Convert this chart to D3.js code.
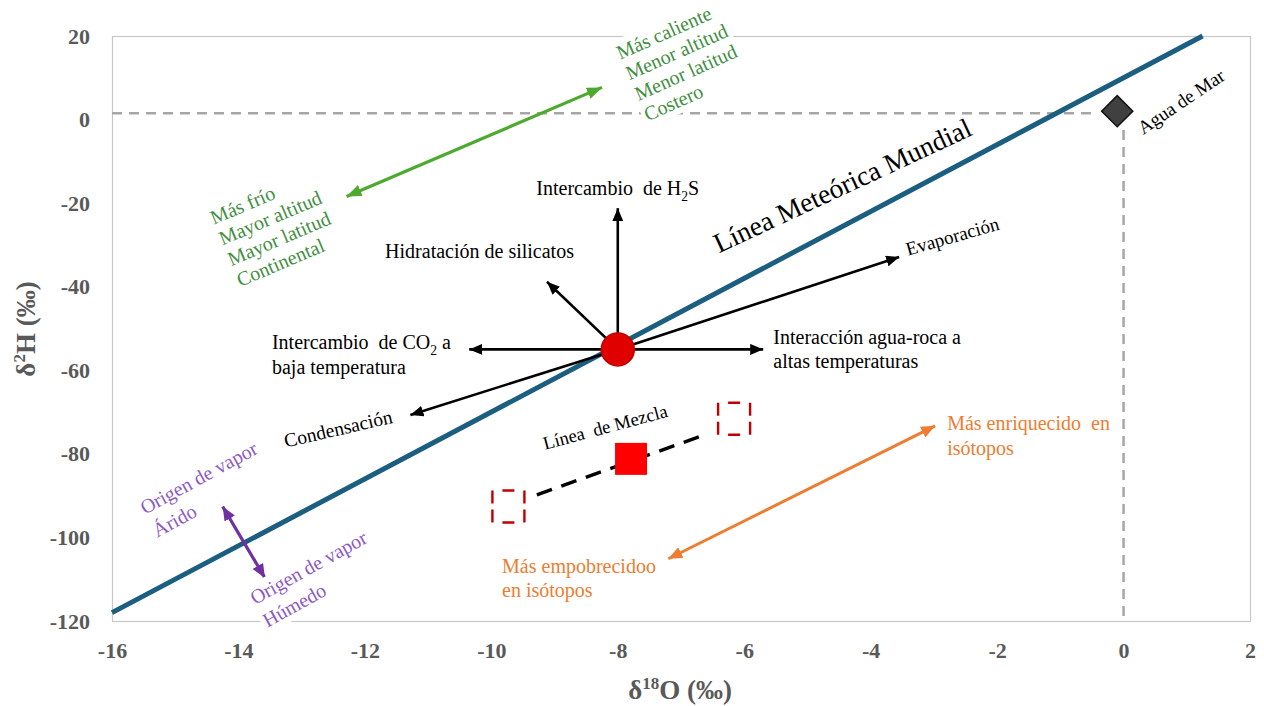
<!DOCTYPE html>
<html><head><meta charset="utf-8">
<script src="https://cdn.jsdelivr.net/npm/d3@7"></script>
<style>
body{margin:0;background:#fff}
svg{display:block}
text{font-family:"Liberation Serif","Times New Roman",serif}
</style>
</head><body>
<svg id="c" width="1264" height="706"></svg>
<script>
// ---------- data ----------
const xDomain = [-16, 2];
const yDomain = [-120, 20];
const xTicks = [-16, -14, -12, -10, -8, -6, -4, -2, 0, 2];
const yTicks = [-120, -100, -80, -60, -40, -20, 0, 20];
// Global Meteoric Water Line: d2H = 8 d18O + 10
const gmwlSlope = 8, gmwlIntercept = 10;
const gmwlX = [-16, 1.25];
const seaWater = [-0.1, 2.0];
const seaRefH = [[-16, 1.5], [-0.45, 1.5]];
const seaRefV = [[0, -2.5], [0, -120]];
const centerPoint = [-8, -55];
const processEnds = [
  [-8.0, -21.2],    // Intercambio de H2S
  [-9.12, -38.8],   // Hidratación de silicatos
  [-10.35, -55.0],  // Intercambio de CO2
  [-5.7, -55.0],    // Interacción agua-roca
  [-3.55, -32.9],   // Evaporación
  [-11.28, -70.7]   // Condensación
];
const mixLine = [[-9.28, -89.8], [-6.6, -75.3]];
const endMembers = [[-9.73, -92.6], [-6.16, -71.6]];
const mixSample = [-7.79, -81.2];
const greenArrow = [[-12.29, -18.4], [-8.25, 7.7]];
const purpleArrow = [[-14.25, -92.6], [-13.58, -109.7]];
const orangeArrow = [[-7.2, -105.1], [-2.98, -73.3]];

const labels = [
  {lines: ["Más frío", "Mayor altitud", "Mayor latitud", "Continental"], at: [-14.39, -25.2], angle: -23, size: 20, lh: 22.5, color: "#3f8f3f"},
  {lines: ["Más caliente", "Menor altitud", "Menor latitud", "Costero"], at: [-7.96, 14.3], angle: -24, size: 20, lh: 22.5, color: "#3f8f3f", box: true},
  {lines: ["Origen de vapor", "Árido"], at: [-15.48, -94.6], angle: -28.5, size: 20, lh: 26, color: "#8c5ac4"},
  {lines: ["Origen de vapor", "Húmedo"], at: [-13.74, -116.2], angle: -29, size: 20, lh: 26, color: "#8c5ac4", box: true},
  {lines: ["Línea Meteórica Mundial"], at: [-6.4, -32.0], angle: -25, size: 27.5, lh: 30, color: "#000"},
  {lines: ["Agua de Mar"], at: [0.31, -3.7], angle: -34, size: 19, lh: 20, color: "#000"},
  {lines: ["Evaporación"], at: [-3.41, -32.6], angle: -16, size: 19, lh: 20, color: "#000"},
  {lines: ["Condensación"], at: [-13.25, -78.5], angle: -13, size: 19.5, lh: 20, color: "#000"},
  {lines: ["Línea  de Mezcla"], at: [-9.15, -79.0], angle: -15, size: 18.5, lh: 20, color: "#000"},
  {lines: ["Intercambio  de H{2}S"], at: [-8.0, -18.05], angle: 0, size: 20, lh: 25, color: "#000", anchor: "middle"},
  {lines: ["Hidratación de silicatos"], at: [-11.68, -33.1], angle: 0, size: 20, lh: 25, color: "#000"},
  {lines: ["Intercambio  de CO{2} a", "baja temperatura"], at: [-13.47, -54.9], angle: 0, size: 20, lh: 25, color: "#000"},
  {lines: ["Interacción agua-roca a", "altas temperaturas"], at: [-5.54, -53.7], angle: 0, size: 20, lh: 24.5, color: "#000"},
  {lines: ["Más enriquecido  en", "isótopos"], at: [-2.79, -74.3], angle: 0, size: 20, lh: 24.5, color: "#ed7d31"},
  {lines: ["Más empobrecidoo", "en isótopos"], at: [-9.83, -108.5], angle: 0, size: 20, lh: 24.5, color: "#ed7d31"}
];

// ---------- layout ----------
const svg = d3.select("#c");
const x = d3.scaleLinear().domain(xDomain).range([112, 1250]);
const y = d3.scaleLinear().domain(yDomain).range([621, 36]);
const line = d3.line().x(d => x(d[0])).y(d => y(d[1]));

// markers
const defs = svg.append("defs");
function marker(id, color, len, wid) {
  defs.append("marker").attr("id", id)
    .attr("viewBox", `0 0 ${len} ${wid}`).attr("refX", len).attr("refY", wid / 2)
    .attr("markerWidth", len).attr("markerHeight", wid)
    .attr("markerUnits", "userSpaceOnUse").attr("orient", "auto-start-reverse")
    .append("path").attr("d", `M0,0L${len},${wid / 2}L0,${wid}Z`).attr("fill", color);
}
marker("mk", "#000", 13, 11);
marker("mg", "#4eaa2e", 15, 12);
marker("mp", "#7030a0", 14, 12);
marker("mo", "#ed7d31", 14, 12);

// plot border
svg.append("rect").attr("x", x(xDomain[0]) + 0.5).attr("y", y(yDomain[1]) + 0.5)
  .attr("width", x(xDomain[1]) - x(xDomain[0])).attr("height", y(yDomain[0]) - y(yDomain[1]))
  .attr("fill", "none").attr("stroke", "#c8c8c8").attr("stroke-width", 1.2);

// axes (labels only)
const fmt = d => String(d);
const gx = svg.append("g").attr("transform", `translate(0,${y(yDomain[0])})`)
  .call(d3.axisBottom(x).tickValues(xTicks).tickSize(0).tickPadding(21).tickFormat(fmt));
const gy = svg.append("g").attr("transform", `translate(${x(xDomain[0])},0)`)
  .call(d3.axisLeft(y).tickValues(yTicks).tickSize(0).tickPadding(22).tickFormat(fmt));
[gx, gy].forEach(g => {
  g.select(".domain").remove();
  g.selectAll("text").attr("font-family", "Liberation Serif, serif").attr("font-size", 22)
    .attr("font-weight", "bold").attr("fill", "#595959");
});

// axis titles
const xt = svg.append("text").attr("x", 680).attr("y", 699).attr("text-anchor", "middle")
  .attr("font-size", 27).attr("font-weight", "bold").attr("fill", "#595959");
xt.append("tspan").text("δ");
xt.append("tspan").text("18").attr("font-size", 17).attr("dy", -10);
xt.append("tspan").text("O (‰)").attr("dy", 10);
const yt = svg.append("text").attr("transform", "translate(35,329) rotate(-90)").attr("text-anchor", "middle")
  .attr("font-size", 27).attr("font-weight", "bold").attr("fill", "#595959");
yt.append("tspan").text("δ");
yt.append("tspan").text("2").attr("font-size", 17).attr("dy", -10);
yt.append("tspan").text("H (‰)").attr("dy", 10);

// sea water reference dashed lines
[seaRefH, seaRefV].forEach(seg => {
  svg.append("path").attr("d", line(seg)).attr("fill", "none")
    .attr("stroke", "#a6a6a6").attr("stroke-width", 2.5).attr("stroke-dasharray", "10,7");
});

// GMWL
svg.append("path").attr("d", line(gmwlX.map(v => [v, gmwlSlope * v + gmwlIntercept])))
  .attr("fill", "none").attr("stroke", "#1b5e80").attr("stroke-width", 5);

// process arrows
processEnds.forEach(e => {
  svg.append("path").attr("d", line([centerPoint, e])).attr("fill", "none")
    .attr("stroke", "#000").attr("stroke-width", 2.6).attr("marker-end", "url(#mk)");
});

// mixing line
svg.append("path").attr("d", line(mixLine)).attr("fill", "none")
  .attr("stroke", "#000").attr("stroke-width", 3.4).attr("stroke-dasharray", "16,10");
endMembers.forEach(p => {
  svg.append("rect").attr("x", x(p[0]) - 16).attr("y", y(p[1]) - 16).attr("width", 32).attr("height", 32)
    .attr("fill", "none").attr("stroke", "#c00000").attr("stroke-width", 2.4)
    .attr("stroke-dasharray", "0,10,12,10,13,6,13,10,12,10,13,6,13");
});
svg.append("rect").attr("x", x(mixSample[0]) - 16).attr("y", y(mixSample[1]) - 16)
  .attr("width", 32).attr("height", 32).attr("fill", "#ff0000");

// double arrows
[[greenArrow, "#4eaa2e", "mg", 3.2], [purpleArrow, "#7030a0", "mp", 3.2], [orangeArrow, "#ed7d31", "mo", 3]].forEach(([pts, col, mk, w]) => {
  svg.append("path").attr("d", line(pts)).attr("fill", "none").attr("stroke", col).attr("stroke-width", w)
    .attr("marker-start", `url(#${mk})`).attr("marker-end", `url(#${mk})`);
});

// sea water diamond
svg.append("path").attr("transform", `translate(${x(seaWater[0])},${y(seaWater[1])}) rotate(45)`)
  .attr("d", "M-11,-11H11V11H-11Z").attr("fill", "#404040").attr("stroke", "#111").attr("stroke-width", 1.5);

// center point
svg.append("circle").attr("cx", x(centerPoint[0])).attr("cy", y(centerPoint[1])).attr("r", 16.5)
  .attr("fill", "#e00000").attr("stroke", "#c00000").attr("stroke-width", 1.5);

// labels
labels.forEach(L => {
  const g = svg.append("g").attr("transform", `translate(${x(L.at[0])},${y(L.at[1])}) rotate(${L.angle})`);
  const t = g.append("text").attr("fill", L.color).attr("font-size", L.size)
    .attr("text-anchor", L.anchor || "start").attr("xml:space", "preserve").style("white-space", "pre");
  L.lines.forEach((ln, i) => {
    const parts = ln.split(/(\{[^}]*\})/).filter(s => s.length);
    let shift = 0;
    parts.forEach((p, j) => {
      const ts = t.append("tspan");
      if (j === 0) ts.attr("x", 0).attr("y", i * L.lh);
      if (p[0] === "{") {
        const s = L.size * 0.28;
        ts.text(p.slice(1, -1)).attr("font-size", L.size * 0.68).attr("dy", s - shift);
        shift = s;
      } else {
        ts.text(p);
        if (shift) { ts.attr("dy", -shift); shift = 0; }
      }
    });
  });
  if (L.box) {
    const b = t.node().getBBox();
    g.insert("rect", "text").attr("x", b.x - 3).attr("y", b.y - 2).attr("width", b.width + 6)
      .attr("height", b.height + 4).attr("fill", "#fff");
  }
});
</script>
</body></html>
